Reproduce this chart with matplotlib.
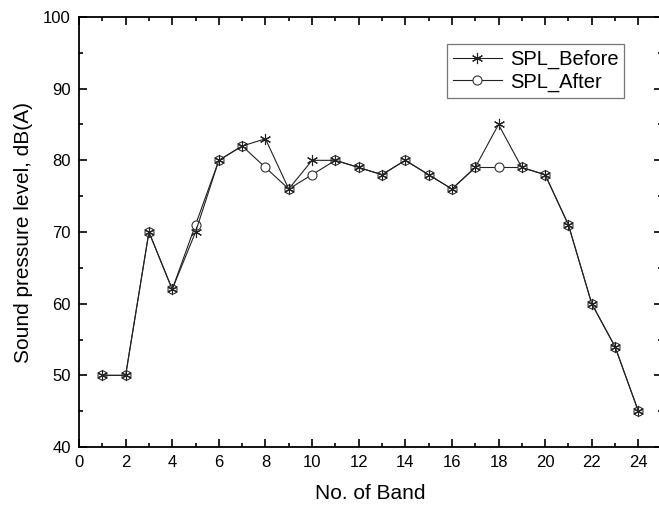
import matplotlib
matplotlib.use('Agg')
from matplotlib import pyplot as plt
from matplotlib.ticker import MultipleLocator

band = list(range(1, 25))
spl_before = [50, 50, 70, 62, 70, 80, 82, 83, 76, 80, 80, 79,
              78, 80, 78, 76, 79, 85, 79, 78, 71, 60, 54, 45]
spl_after = [50, 50, 70, 62, 71, 80, 82, 79, 76, 78, 80, 79,
             78, 80, 78, 76, 79, 79, 79, 78, 71, 60, 54, 45]

plt.rcParams['font.family'] = ['Liberation Sans', 'DejaVu Sans']

fig = plt.figure(figsize=(6.59, 5.07), dpi=100)
ax = fig.add_axes([0.1199, 0.1183, 0.8841, 0.8482])

ax.plot(band, spl_after, color='#222222', lw=0.8, marker='o', ms=6.5,
        mfc='white', mec='#333333', mew=0.8, label='SPL_After', zorder=2)
ax.plot(band, spl_before, color='#222222', lw=0.8, marker=(6, 2, 0), ms=8,
        mec='#222222', mew=0.8, label='SPL_Before', zorder=3)

ax.set_xlim(0, 25)
ax.set_ylim(40, 100)
ax.xaxis.set_major_locator(MultipleLocator(2))
ax.xaxis.set_minor_locator(MultipleLocator(1))
ax.yaxis.set_major_locator(MultipleLocator(10))
ax.yaxis.set_minor_locator(MultipleLocator(5))
ax.tick_params(which='both', direction='in', top=True, right=True,
               labelsize=12, width=1.2)
ax.tick_params(which='major', length=6, pad=6)
ax.tick_params(which='minor', length=3)
for s in ax.spines.values():
    s.set_linewidth(1.3)

ax.set_xlabel('No. of Band', fontsize=15, labelpad=10)
ax.set_ylabel('Sound pressure level, dB(A)', fontsize=15, labelpad=7)

handles, labels = ax.get_legend_handles_labels()
leg = ax.legend(handles[::-1], labels[::-1], loc='upper right',
                bbox_to_anchor=(0.936, 0.937), fontsize=14.5, frameon=True,
                fancybox=False, edgecolor='#555555', handlelength=2.4,
                handletextpad=0.4, borderpad=0.3, labelspacing=0.15,
                borderaxespad=0)
leg.get_frame().set_linewidth(0.9)

fig.savefig('out.png', dpi=100)
